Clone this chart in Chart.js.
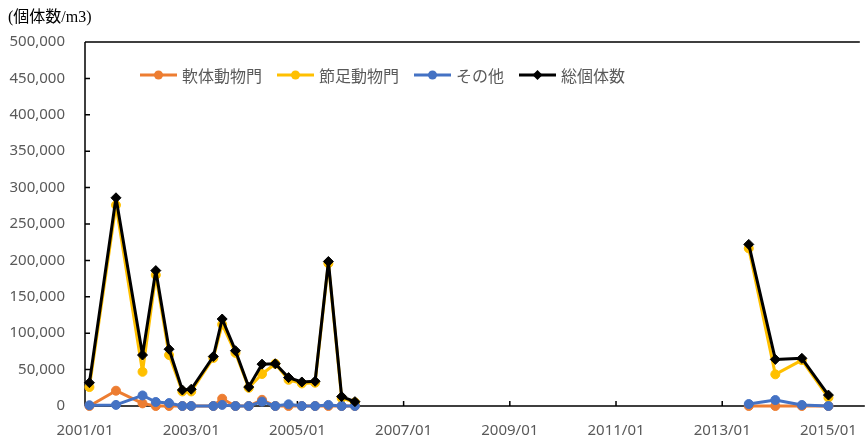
<!DOCTYPE html>
<html>
<head>
<meta charset="utf-8">
<script src="https://cdn.jsdelivr.net/npm/chart.js@4/dist/chart.umd.min.js"></script>
<style>
html,body{margin:0;padding:0;background:#fff;}
#wrap{position:relative;width:865px;height:438px;}
</style>
</head>
<body>
<div id="wrap"><canvas id="c" width="865" height="438"></canvas></div>
<script>
const dates = ['2001/02','2001/08','2002/02','2002/05','2002/08','2002/11','2003/01','2003/06','2003/08','2003/11',
  '2004/02','2004/05','2004/08','2004/11','2005/02','2005/05','2005/08','2005/11','2006/02',
  '2013/07','2014/01','2014/07','2015/01'];
const mollusca   = [0, 21000, 3600, 0, 0, 0, 0, 0, 10000, 0, 0, 8500, 0, 0, 0, 0, 0, 0, 0, 0, 0, 0, 0];
const arthropoda = [26000, 276000, 47000, 180000, 70000, 20000, 20000, 66000, 112000, 73000, 25000, 44000, 58000, 36000, 31000, 32000, 196000, 11000, 5000, 216500, 43500, 63000, 11500];
const others     = [1000, 1500, 14500, 5500, 4000, 0, 0, 0, 1500, 0, 0, 6000, 0, 2300, 0, 0, 1500, 0, 0, 2700, 8200, 1400, 0];
const total      = [32000, 286000, 70000, 186000, 78000, 22000, 23000, 68000, 119500, 76000, 26000, 57500, 58000, 39000, 33000, 34000, 198500, 13000, 6000, 222000, 64000, 65500, 15000];
const seriesNames = ['軟体動物門','節足動物門','その他','総個体数'];
const seriesColors = ['#ED7D31','#FFC000','#4472C4','#000000'];
const xTickLabels = ['2001/01','2003/01','2005/01','2007/01','2009/01','2011/01','2013/01','2015/01'];
const yAxisTitle = '(個体数/m3)';

const BASE_YEAR = 2001;
function monthIndex(s){ const p = s.split('/'); return (parseInt(p[0]) - BASE_YEAR) * 12 + (parseInt(p[1]) - 1); }
function toPoints(vals){
  const pts = [];
  for (let i = 0; i < dates.length; i++) {
    const m = monthIndex(dates[i]);
    if (i > 0) {
      const prev = monthIndex(dates[i-1]);
      if (m - prev > 12) pts.push({x: (m + prev) / 2, y: null});
    }
    pts.push({x: m, y: vals[i]});
  }
  return pts;
}

const axesPlugin = {
  id: 'axesPlugin',
  beforeDatasetsDraw(chart){
    const ctx = chart.ctx, a = chart.chartArea;
    const xs = chart.scales.x, ys = chart.scales.y;
    ctx.save();
    ctx.strokeStyle = '#000';
    ctx.lineWidth = 1.5;
    ctx.beginPath();
    ctx.moveTo(a.left, a.top); ctx.lineTo(a.left, a.bottom);
    ctx.moveTo(a.left, a.bottom); ctx.lineTo(a.right + 1, a.bottom);
    ctx.moveTo(a.left, a.top); ctx.lineTo(a.right - 4, a.top);
    ys.ticks.forEach((t, i) => {
      const py = ys.getPixelForTick(i);
      ctx.moveTo(a.left, py); ctx.lineTo(a.left + 5, py);
    });
    xs.ticks.forEach((t, i) => {
      const px = xs.getPixelForTick(i);
      ctx.moveTo(px, a.bottom); ctx.lineTo(px, a.bottom - 5);
    });
    ctx.stroke();
    ctx.restore();
  },
  afterDraw(chart){
    const ctx = chart.ctx;
    ctx.save();
    ctx.fillStyle = '#000';
    ctx.font = '16px "Liberation Serif", "Noto Sans CJK JP", serif';
    ctx.textBaseline = 'middle';
    ctx.textAlign = 'left';
    ctx.fillText(yAxisTitle, 8, 18);
    ctx.font = '16px "Noto Sans CJK JP", sans-serif';
    let x = 140;
    const y = 75;
    chart.data.datasets.forEach((ds) => {
      ctx.strokeStyle = ds.borderColor;
      ctx.lineWidth = 3;
      ctx.beginPath(); ctx.moveTo(x, y); ctx.lineTo(x + 37, y); ctx.stroke();
      ctx.fillStyle = ds.borderColor;
      const cx = x + 18.5;
      if (ds.pointStyle === 'rectRot') {
        ctx.beginPath();
        ctx.moveTo(cx, y - 5); ctx.lineTo(cx + 5, y); ctx.lineTo(cx, y + 5); ctx.lineTo(cx - 5, y); ctx.closePath(); ctx.fill();
      } else {
        ctx.beginPath(); ctx.arc(cx, y, 4.5, 0, Math.PI * 2); ctx.fill();
      }
      ctx.fillStyle = '#595959';
      ctx.fillText(ds.label, x + 42, y + 1);
      x += 42 + ctx.measureText(ds.label).width + 15;
    });
    ctx.restore();
  }
};

const seriesVals = [mollusca, arthropoda, others, total];
const datasets = seriesVals.map((vals, i) => ({
  label: seriesNames[i],
  data: toPoints(vals),
  borderColor: seriesColors[i],
  backgroundColor: seriesColors[i],
  borderWidth: 3,
  borderJoinStyle: 'round',
  borderCapStyle: 'round',
  pointStyle: i === 3 ? 'rectRot' : 'circle',
  pointRadius: i === 3 ? 5 : 4.5,
  pointBorderWidth: 1,
  pointHoverRadius: 5,
  spanGaps: false,
  tension: 0,
  clip: false,
  order: 3 - i
}));

new Chart(document.getElementById('c'), {
  type: 'line',
  data: { datasets },
  options: {
    responsive: false,
    animation: false,
    layout: { autoPadding: false, padding: { top: 42, right: 1, left: 0, bottom: 0 } },
    plugins: { legend: { display: false }, tooltip: { enabled: false }, title: { display: false } },
    scales: {
      x: {
        type: 'linear',
        min: 0, max: 176,
        afterFit(s){ s.height = 32; },
        afterBuildTicks(s){
          s.ticks = xTickLabels.map(l => ({ value: monthIndex(l) }));
        },
        grid: { display: false },
        border: { display: false },
        ticks: {
          autoSkip: false,
          maxRotation: 0,
          padding: 8,
          color: '#595959',
          font: { family: '"Noto Sans", sans-serif', size: 15 },
          callback(v){ const idx = xTickLabels.findIndex(l => monthIndex(l) === v); return idx >= 0 ? xTickLabels[idx] : ''; }
        }
      },
      y: {
        min: 0, max: 500000,
        afterFit(s){ s.width = 85; },
        grid: { display: false, drawTicks: false },
        border: { display: false },
        ticks: {
          stepSize: 50000,
          padding: 20,
          color: '#595959',
          font: { family: '"Noto Sans", sans-serif', size: 15 },
          callback(v){ return v.toLocaleString('en-US'); }
        }
      }
    }
  },
  plugins: [axesPlugin]
});
</script>
</body>
</html>
